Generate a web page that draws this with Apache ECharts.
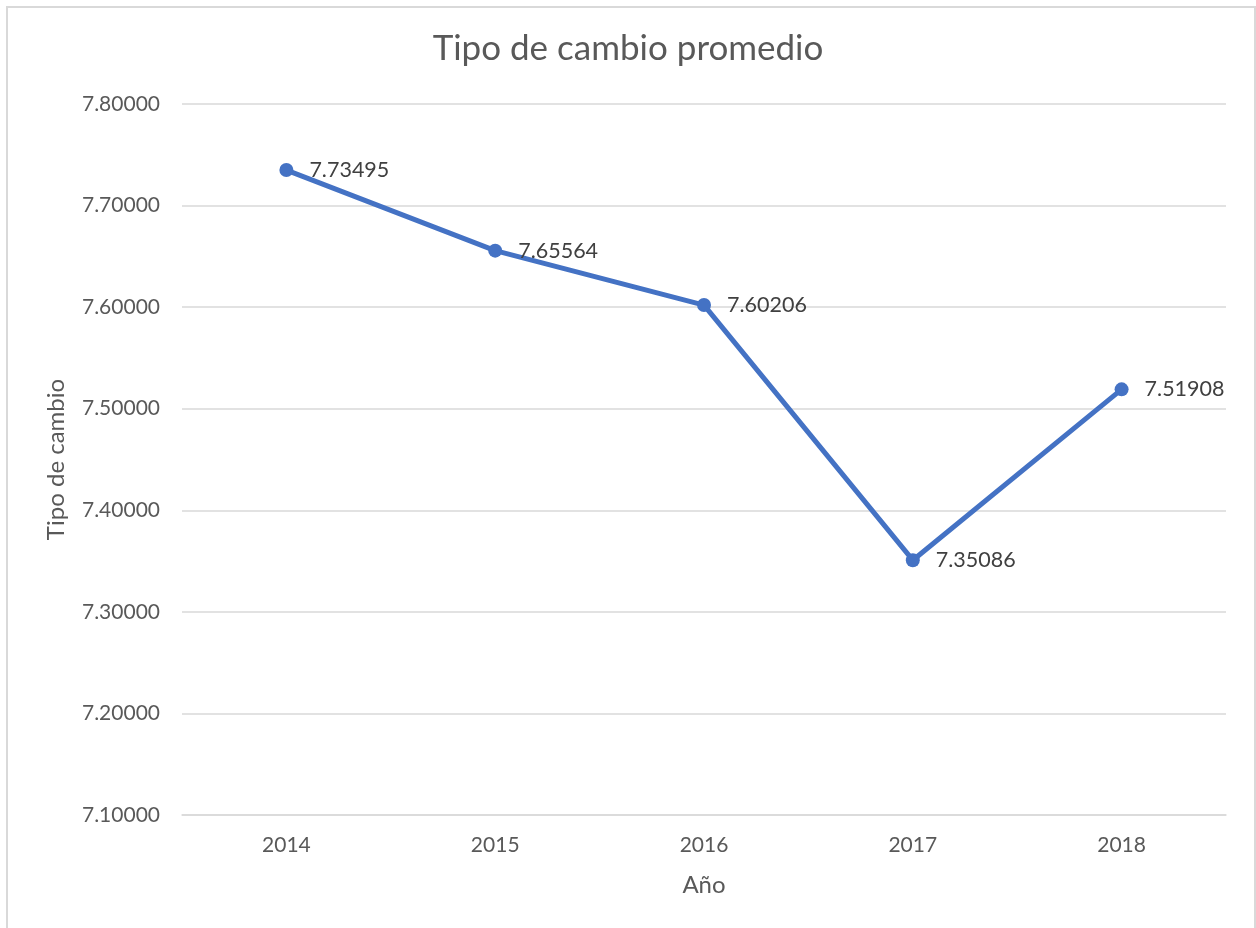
<!DOCTYPE html>
<html><head><meta charset="utf-8">
<script src="https://cdn.jsdelivr.net/npm/echarts@6/dist/echarts.min.js"></script>
<style>html,body{margin:0;padding:0;background:#fff}#c{width:1256px;height:928px}</style>
</head><body><div id="c"></div>
<script>
const categories = ['2014','2015','2016','2017','2018'];
const values = [7.73495, 7.65564, 7.60206, 7.35086, 7.51908];
const titleText = 'Tipo de cambio promedio';
const xName = 'Año';
const yName = 'Tipo de cambio';
const font = 'Lato, "Open Sans", sans-serif';
const chart = echarts.init(document.getElementById('c'));
chart.setOption({
  animation: false,
  backgroundColor: '#fff',
  graphic: [{type:'rect', shape:{x:7, y:7, width:1248, height:940}, style:{fill:'none', stroke:'#d9d9d9', lineWidth:2}, silent:true}],
  title: {text: titleText, left: 'center', top: 26, textStyle:{fontFamily:font, fontSize:35, fontWeight:'normal', color:'#595959'}},
  grid: {left:182, right:30, top:104, bottom:113},
  xAxis: {type:'category', data: categories, name: xName, nameLocation:'middle', nameGap:58,
    nameTextStyle:{fontFamily:font, fontSize:24, color:'#595959'},
    axisLine:{lineStyle:{color:'#d9d9d9', width:1.5}}, axisTick:{show:false},
    axisLabel:{fontFamily:font, fontSize:21, color:'#595959', margin:20}},
  yAxis: {type:'value', min:7.1, max:7.8, interval:0.1, name: yName, nameLocation:'middle', nameGap:114,
    nameTextStyle:{fontFamily:font, fontSize:24, color:'#595959'},
    axisLine:{show:false}, axisTick:{show:false},
    splitLine:{lineStyle:{color:'#d9d9d9', width:1.5}},
    axisLabel:{fontFamily:font, fontSize:21, color:'#595959', margin:22, formatter:v=>v.toFixed(5)}},
  series: [{type:'line', data: values, symbol:'circle', symbolSize:14,
    lineStyle:{color:'#4472C4', width:5}, itemStyle:{color:'#4472C4'},
    label:{show:true, position:'right', distance:16, fontFamily:font, fontSize:21.5, color:'#404040', formatter:p=>p.value.toFixed(5)}}]
});
</script></body></html>
